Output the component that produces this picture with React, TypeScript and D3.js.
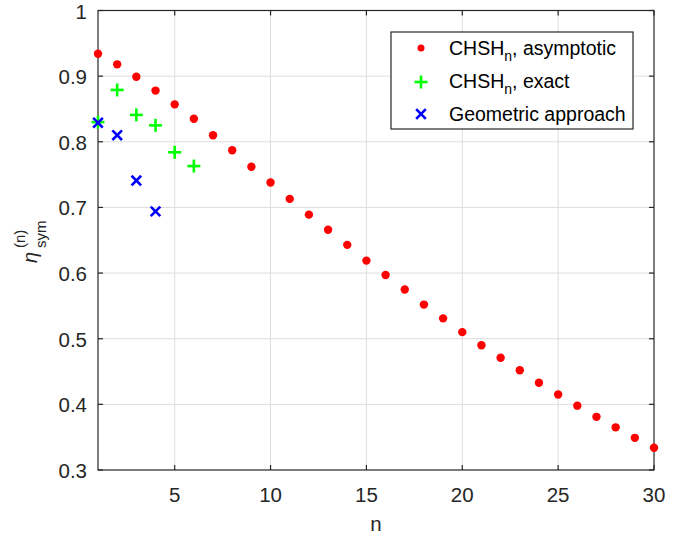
import * as d3 from "d3";

const W = 690;
const H = 539;
const margin = { top: 10.5, right: 36, bottom: 69, left: 98 };

// CHSH_n asymptotic, n = 1..30
const asymN = d3.range(1, 31);
const asymVals = [
  0.934, 0.918, 0.899, 0.878, 0.857, 0.835, 0.81, 0.787, 0.762, 0.738,
  0.713, 0.689, 0.666, 0.643, 0.619, 0.597, 0.575, 0.552, 0.531, 0.51,
  0.49, 0.471, 0.452, 0.433, 0.415, 0.398, 0.381, 0.365, 0.349, 0.334,
];
// CHSH_n exact, n = 1..6
const exactN = [1, 2, 3, 4, 5, 6];
const exactVals = [0.83, 0.879, 0.841, 0.825, 0.784, 0.763];
// Geometric approach, n = 1..4
const geoN = [1, 2, 3, 4];
const geoVals = [0.829, 0.81, 0.741, 0.694];

const xTicks = [5, 10, 15, 20, 25, 30];
const yTicks = [0.3, 0.4, 0.5, 0.6, 0.7, 0.8, 0.9, 1];

const font = '"Liberation Sans", Arial, Helvetica, sans-serif';
const axisColor = "#262626";
const gridColor = "#dedede";

const Plus = ({ x, y }: { x: number; y: number }) => (
  <g stroke="#00ff00" strokeWidth={2.6}>
    <line x1={x - 6.5} x2={x + 6.5} y1={y} y2={y} />
    <line x1={x} x2={x} y1={y - 6.5} y2={y + 6.5} />
  </g>
);

const Cross = ({ x, y }: { x: number; y: number }) => (
  <g stroke="#0000ff" strokeWidth={2.6}>
    <line x1={x - 4.8} x2={x + 4.8} y1={y - 4.8} y2={y + 4.8} />
    <line x1={x - 4.8} x2={x + 4.8} y1={y + 4.8} y2={y - 4.8} />
  </g>
);

export default function App() {
  const x = d3.scaleLinear().domain([1, 30]).range([margin.left, W - margin.right]);
  const y = d3.scaleLinear().domain([0.3, 1]).range([H - margin.bottom, margin.top]);
  const [x0, x1] = x.range();
  const [y0, y1] = y.range();

  const legend = { x: 391, y: 32, w: 242, h: 97 };
  const rows = [48, 81, 114];

  return (
    <svg
      width={W}
      height={H}
      fontFamily={font}
      style={{ position: "absolute", left: 0, top: 0, background: "#fff" }}
    >
      {/* grid */}
      {xTicks.filter((t) => t < 30).map((t) => (
        <line key={"gx" + t} x1={x(t)} x2={x(t)} y1={y1} y2={y0} stroke={gridColor} />
      ))}
      {yTicks.filter((t) => t > 0.3 && t < 1).map((t) => (
        <line key={"gy" + t} x1={x0} x2={x1} y1={y(t)} y2={y(t)} stroke={gridColor} />
      ))}

      {/* box & ticks */}
      <rect x={x0} y={y1} width={x1 - x0} height={y0 - y1} fill="none" stroke={axisColor} strokeWidth={1.2} />
      {xTicks.map((t) => (
        <g key={"tx" + t} stroke={axisColor} strokeWidth={1.2}>
          <line x1={x(t)} x2={x(t)} y1={y0} y2={y0 - 5} />
          <line x1={x(t)} x2={x(t)} y1={y1} y2={y1 + 5} />
        </g>
      ))}
      {yTicks.map((t) => (
        <g key={"ty" + t} stroke={axisColor} strokeWidth={1.2}>
          <line x1={x0} x2={x0 + 5} y1={y(t)} y2={y(t)} />
          <line x1={x1} x2={x1 - 5} y1={y(t)} y2={y(t)} />
        </g>
      ))}
      {xTicks.map((t) => (
        <text key={"lx" + t} x={x(t)} y={502} textAnchor="middle" fontSize={20.5} fill={axisColor}>
          {t}
        </text>
      ))}
      {yTicks.map((t) => (
        <text key={"ly" + t} x={87} y={y(t) + 8} textAnchor="end" fontSize={20.5} fill={axisColor}>
          {t === 1 ? "1" : t.toFixed(1)}
        </text>
      ))}

      {/* axis labels */}
      <text x={(x0 + x1) / 2} y={531} textAnchor="middle" fontSize={20.5} fill={axisColor}>
        n
      </text>
      <g transform="translate(37,240) rotate(-90)" fill={axisColor}>
        <text x={-23} y={0} fontSize={20} fontStyle="italic">η</text>
        <text x={-8} y={9} fontSize={15}>sym</text>
        <text x={-8} y={-12} fontSize={15}>(n)</text>
      </g>

      {/* data */}
      {asymN.map((n, i) => (
        <circle key={"a" + n} cx={x(n)} cy={y(asymVals[i])} r={4.2} fill="#ff0000" />
      ))}
      {exactN.map((n, i) => (
        <Plus key={"e" + n} x={x(n)} y={y(exactVals[i])} />
      ))}
      {geoN.map((n, i) => (
        <Cross key={"g" + n} x={x(n)} y={y(geoVals[i])} />
      ))}

      {/* legend */}
      <rect x={legend.x} y={legend.y} width={legend.w} height={legend.h} fill="#fff" stroke={axisColor} strokeWidth={1.2} />
      <circle cx={421} cy={rows[0]} r={3.5} fill="#ff0000" />
      <Plus x={421} y={rows[1] + 1} />
      <Cross x={421} y={rows[2]} />
      <text x={449} y={rows[0] + 7} fontSize={19.5} fill="#000">
        CHSH<tspan dy={6} fontSize={14}>n</tspan>
        <tspan dy={-6}>, asymptotic</tspan>
      </text>
      <text x={449} y={rows[1] + 7} fontSize={19.5} fill="#000">
        CHSH<tspan dy={6} fontSize={14}>n</tspan>
        <tspan dy={-6}>, exact</tspan>
      </text>
      <text x={449} y={rows[2] + 7} fontSize={19.5} fill="#000">
        Geometric approach
      </text>
    </svg>
  );
}
